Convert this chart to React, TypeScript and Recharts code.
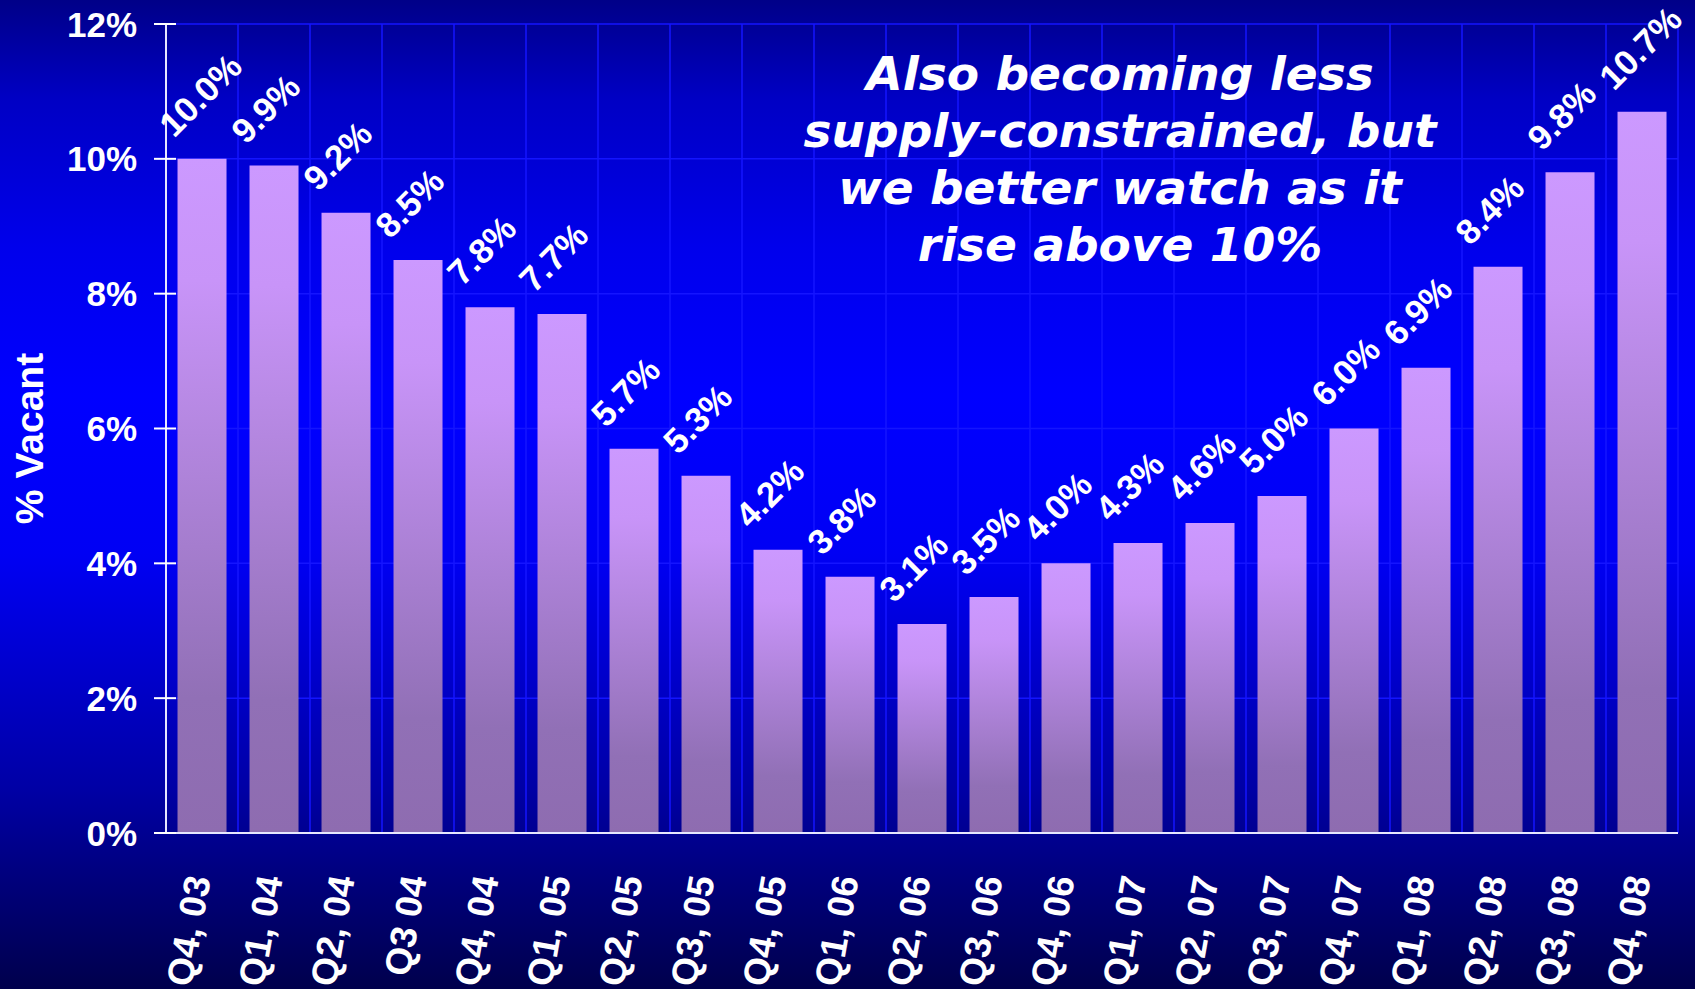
import { Bar, BarChart, CartesianGrid, LabelList, XAxis, YAxis } from "recharts"

const quarters = [
  "Q4, 03", "Q1, 04", "Q2, 04", "Q3 04", "Q4, 04", "Q1, 05", "Q2, 05",
  "Q3, 05", "Q4, 05", "Q1, 06", "Q2, 06", "Q3, 06", "Q4, 06", "Q1, 07",
  "Q2, 07", "Q3, 07", "Q4, 07", "Q1, 08", "Q2, 08", "Q3, 08", "Q4, 08",
]
const vacancy = [
  10.0, 9.9, 9.2, 8.5, 7.8, 7.7, 5.7, 5.3, 4.2, 3.8, 3.1,
  3.5, 4.0, 4.3, 4.6, 5.0, 6.0, 6.9, 8.4, 9.8, 10.7,
]
const yTicks = [0, 2, 4, 6, 8, 10, 12]
const note = [
  "Also becoming less",
  "supply-constrained, but",
  "we better watch as it",
  "rise above 10%",
]

const data = quarters.map((q, i) => ({ q, vacancy: vacancy[i] }))

const font = '"Liberation Sans", Arial, sans-serif'

function YTick(props: any) {
  const { x, y, payload } = props
  return (
    <g>
      <line x1={x - 12} x2={x + 10} y1={y} y2={y} stroke="#ffffff" strokeWidth={2} />
      <text
        x={x - 29}
        y={y}
        dy="0.36em"
        textAnchor="end"
        fill="#ffffff"
        fontFamily={font}
        fontWeight="bold"
        fontSize={35}
      >
        {payload.value}%
      </text>
    </g>
  )
}

function XTick(props: any) {
  const { x, y, payload } = props
  const tx = x - 4
  const ty = y + 43
  return (
    <text
      x={tx}
      y={ty}
      dy="0.35em"
      textAnchor="end"
      transform={`rotate(-80, ${tx}, ${ty})`}
      fill="#ffffff"
      fontFamily={font}
      fontWeight="bold"
      fontSize={37}
    >
      {payload.value}
    </text>
  )
}

function ValueLabel(props: any) {
  const x = Number(props.x) + Number(props.width) / 2 - 28
  const y = Number(props.y) - 20
  return (
    <text
      x={x}
      y={y}
      transform={`rotate(-45, ${x}, ${y})`}
      fill="#ffffff"
      fontFamily={font}
      fontWeight="bold"
      fontSize={35}
    >
      {Number(props.value).toFixed(1)}%
    </text>
  )
}

function YLabel(props: any) {
  const vb = props.viewBox
  const x = vb.x + 29
  const y = vb.y + vb.height / 2 + 10
  return (
    <text
      x={x}
      y={y}
      dy="0.36em"
      textAnchor="middle"
      transform={`rotate(-90, ${x}, ${y})`}
      fill="#ffffff"
      fontFamily={font}
      fontWeight="bold"
      fontSize={39}
    >
      % Vacant
    </text>
  )
}

export default function App() {
  return (
    <div
      style={{
        position: "absolute",
        left: 0,
        top: 0,
        width: 1695,
        height: 989,
        background:
          "linear-gradient(to bottom, #000088 0%, #0000c4 10%, #0000ec 25%, #0000ff 40%, #0000f4 56%, #0000cc 68%, #0000a4 80%, #000080 88%, #00004c 100%)",
      }}
    >
      <BarChart
        width={1695}
        height={989}
        data={data}
        margin={{ top: 24, right: 17, bottom: 0, left: 0 }}
        barCategoryGap="16%"
      >
        <defs>
          <linearGradient id="barFill" x1="0" y1="0" x2="0" y2="1">
            <stop offset="0%" stopColor="#cc99ff" />
            <stop offset="18%" stopColor="#c894f8" />
            <stop offset="80%" stopColor="#9170b6" />
            <stop offset="100%" stopColor="#8e6cb0" />
          </linearGradient>
        </defs>
        <CartesianGrid
          stroke="#1414ff"
          strokeWidth={1.5}
          verticalCoordinatesGenerator={({ offset }: any) =>
            Array.from(
              { length: quarters.length + 1 },
              (_, i) => offset.left + (i * offset.width) / quarters.length
            )
          }
        />
        <XAxis
          dataKey="q"
          height={156}
          interval={0}
          tickSize={0}
          tickMargin={0}
          tickLine={false}
          axisLine={{ stroke: "#e6e6ff", strokeWidth: 2 }}
          tick={<XTick />}
        />
        <YAxis
          width={166}
          domain={[0, 12]}
          ticks={yTicks}
          interval={0}
          tickSize={0}
          tickMargin={0}
          tickLine={false}
          axisLine={{ stroke: "#e6e6ff", strokeWidth: 2 }}
          tick={<YTick />}
          label={{ content: <YLabel /> }}
        />
        <Bar dataKey="vacancy" fill="url(#barFill)" isAnimationActive={false}>
          <LabelList dataKey="vacancy" content={<ValueLabel />} />
        </Bar>
      </BarChart>
      <div
        style={{
          position: "absolute",
          left: 720,
          top: 45,
          width: 800,
          textAlign: "center",
          color: "#ffffff",
          fontFamily: '"DejaVu Sans", Verdana, sans-serif',
          fontWeight: "bold",
          fontStyle: "italic",
          fontSize: 47,
          lineHeight: "57px",
        }}
      >
        {note.map((line) => (
          <div key={line}>{line}</div>
        ))}
      </div>
    </div>
  )
}
